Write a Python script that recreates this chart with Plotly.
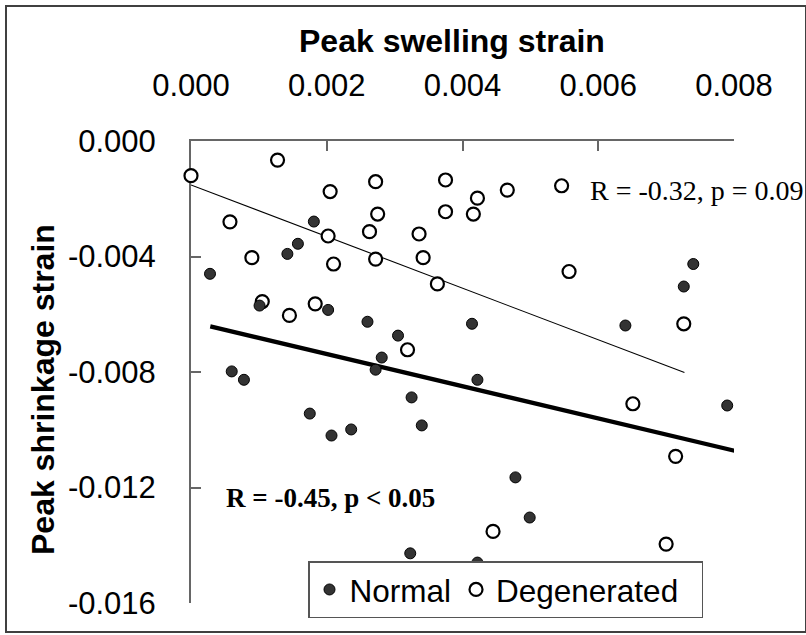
import plotly.graph_objects as go

# ---- data (strain values) ----
normal_swell = [0.00028, 0.00101, 0.00142, 0.001575, 0.00181, 0.00202, 0.00060, 0.00078,
                0.00175, 0.00207, 0.00236, 0.00260, 0.00272, 0.00281, 0.00305, 0.00325,
                0.00340, 0.00323, 0.00414, 0.00422, 0.00422, 0.00478, 0.00499, 0.00640,
                0.00726, 0.00740, 0.00790]
normal_shrink = [-0.00460, -0.00570, -0.00391, -0.00356, -0.00279, -0.00585, -0.00798, -0.00827,
                 -0.00944, -0.01020, -0.00999, -0.00626, -0.00792, -0.00750, -0.00674, -0.00888,
                 -0.00985, -0.01428, -0.00633, -0.00827, -0.01460, -0.01165, -0.01304, -0.00639,
                 -0.00504, -0.00426, -0.00916]

degen_swell = [0.00000, 0.001275, 0.00272, 0.00205, 0.00275, 0.000574, 0.00263, 0.00202,
               0.00272, 0.000897, 0.00210, 0.00105, 0.00145, 0.00183, 0.00375, 0.00422,
               0.00466, 0.00546, 0.00375, 0.00416, 0.00336, 0.00342, 0.00363, 0.00557,
               0.00319, 0.00726, 0.00651, 0.00714, 0.00445, 0.00700]
degen_shrink = [-0.00120, -0.00066, -0.00141, -0.00175, -0.00253, -0.00280, -0.00314, -0.00329,
                -0.00409, -0.00404, -0.00426, -0.00556, -0.00604, -0.00564, -0.00135, -0.00198,
                -0.00170, -0.00155, -0.00245, -0.00253, -0.00322, -0.00404, -0.00495, -0.00452,
                -0.00723, -0.00633, -0.00910, -0.01092, -0.01352, -0.01396]

# regression lines (end points as drawn)
normal_fit_x = [0.000284, 0.00803]
normal_fit_y = [-0.00642, -0.01074]
degen_fit_x = [0.00000, 0.00727]
degen_fit_y = [-0.00152, -0.00802]

x_ticks = [0.000, 0.002, 0.004, 0.006, 0.008]
x_tick_text = ["0.000", "0.002", "0.004", "0.006", "0.008"]
y_ticks = [0.000, -0.004, -0.008, -0.012, -0.016]
y_tick_text = ["0.000", "-0.004", "-0.008", "-0.012", "-0.016"]

normal_label = "R = -0.45, p < 0.05"
degen_label = "R = -0.32, p = 0.09"

# ---- layout geometry (pixels) ----
W, H = 806, 635
L, R, T, B = 191, 72, 141, 32
PW, PH = W - L - R, H - T - B


def px(x):
    return (x - L) / PW


def py(y):
    return (H - B - y) / PH


fig = go.Figure()

fig.add_trace(go.Scatter(x=degen_fit_x, y=degen_fit_y, mode="lines",
                         line=dict(color="black", width=1.1), showlegend=False,
                         hoverinfo="skip"))
fig.add_trace(go.Scatter(x=normal_fit_x, y=normal_fit_y, mode="lines",
                         line=dict(color="black", width=4.2), showlegend=False,
                         hoverinfo="skip", cliponaxis=False))

fig.add_trace(go.Scatter(x=degen_swell, y=degen_shrink, mode="markers",
                         name="Degenerated\u00a0\u00a0",
                         marker=dict(symbol="circle", size=13, color="white",
                                     line=dict(color="black", width=2.2)),
                         cliponaxis=False))
fig.add_trace(go.Scatter(x=normal_swell, y=normal_shrink, mode="markers", name="Normal",
                         marker=dict(symbol="circle", size=11, color="#333333",
                                     line=dict(color="black", width=1)),
                         cliponaxis=False))

axis_font = dict(family="Liberation Sans, Arial, sans-serif", size=31, color="black")

fig.update_layout(
    width=W, height=H,
    margin=dict(l=L, r=R, t=T, b=B, pad=0),
    paper_bgcolor="white", plot_bgcolor="white",
    showlegend=True,
    legend=dict(orientation="h", x=px(308), y=py(618), xanchor="left", yanchor="bottom",
                bgcolor="white", bordercolor="#555555", borderwidth=1.5,
                font=dict(family="Liberation Sans, Arial, sans-serif", size=31.5, color="black"),
                traceorder="reversed"),
    xaxis=dict(range=[0, 0.008], side="top", tickvals=x_ticks, ticktext=x_tick_text,
               showgrid=False, zeroline=False, showline=True, linecolor="#666666",
               linewidth=2, ticks="inside", ticklen=10, tickwidth=1.5, tickcolor="#666666",
               tickfont=axis_font, ticklabelstandoff=31, layer="below traces"),
    yaxis=dict(range=[-0.016, 0], tickvals=y_ticks, ticktext=y_tick_text,
               showgrid=False, zeroline=False, showline=True, linecolor="#666666",
               linewidth=2, ticks="inside", ticklen=10, tickwidth=1.5, tickcolor="#666666",
               tickfont=axis_font, ticklabelstandoff=27, layer="below traces"),
    annotations=[
        dict(text="<b>Peak swelling strain</b>", xref="paper", yref="paper",
             x=px(452), y=py(41), xanchor="center", yanchor="middle", showarrow=False,
             font=dict(family="Liberation Sans, Arial, sans-serif", size=32, color="black")),
        dict(text="<b>Peak shrinkage strain</b>", xref="paper", yref="paper",
             x=px(43), y=py(390), xanchor="center", yanchor="middle", showarrow=False,
             textangle=-90,
             font=dict(family="Liberation Sans, Arial, sans-serif", size=32, color="black")),
        dict(text=degen_label, xref="paper", yref="paper",
             x=px(588), y=py(190), xanchor="left", yanchor="middle", showarrow=False,
             font=dict(family="Liberation Serif, Times New Roman, serif", size=28, color="black")),
        dict(text="<b>" + normal_label + "</b>", xref="paper", yref="paper",
             x=px(224), y=py(498), xanchor="left", yanchor="middle", showarrow=False,
             font=dict(family="Liberation Serif, Times New Roman, serif", size=27, color="black")),
    ],
    shapes=[
        dict(type="rect", xref="paper", yref="paper",
             x0=px(6), x1=px(806), y0=py(632), y1=py(6),
             line=dict(color="#404040", width=2), fillcolor="rgba(0,0,0,0)", layer="below"),
    ],
)

fig.write_html("out.html")
